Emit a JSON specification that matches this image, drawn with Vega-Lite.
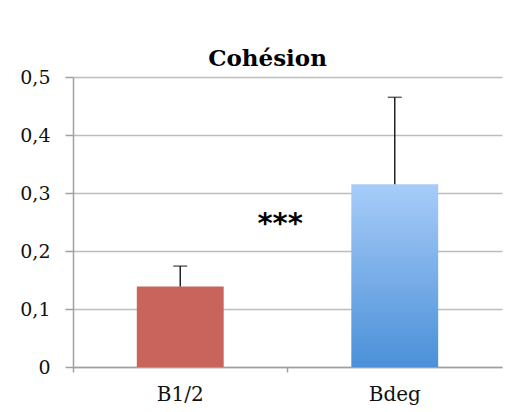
{
  "$schema": "https://vega.github.io/schema/vega-lite/v6.json",
  "autosize": "none",
  "width": 429,
  "height": 290,
  "padding": {"left": 73, "top": 77, "right": 6, "bottom": 45},
  "background": "white",
  "title": {
    "text": "Cohésion",
    "font": "DejaVu Serif",
    "fontSize": 23,
    "fontWeight": "bold",
    "color": "#000000",
    "offset": -3,
    "dx": -20
  },
  "config": {
    "view": {"stroke": null},
    "axis": {
      "labelFont": "DejaVu Serif",
      "labelFontSize": 19,
      "labelColor": "#111111",
      "domainColor": "#a0a0a0",
      "domainWidth": 1.5,
      "tickColor": "#a0a0a0",
      "tickWidth": 1.5,
      "gridColor": "#bdbdbd",
      "gridWidth": 1.5,
      "title": null
    }
  },
  "data": {
    "values": [
      {"group": "B1/2", "value": 0.139, "upper": 0.174},
      {"group": "Bdeg", "value": 0.315, "upper": 0.465}
    ]
  },
  "encoding": {
    "x": {
      "field": "group",
      "type": "nominal",
      "sort": null,
      "scale": {"paddingInner": 0.595, "paddingOuter": 0.2975},
      "axis": {"labelAngle": 0, "tickSize": 5, "labelPadding": 12, "labelFontSize": 20, "grid": false, "bandPosition": -0.734}
    }
  },
  "layer": [
    {
      "transform": [{"filter": "datum.group === 'B1/2'"}],
      "mark": {"type": "bar", "color": "#C9645C"},
      "encoding": {
        "y": {
          "field": "value",
          "type": "quantitative",
          "scale": {"domain": [0, 0.5], "nice": false},
          "axis": {
            "values": [0, 0.1, 0.2, 0.3, 0.4, 0.5],
            "format": ".1~f",
            "labelExpr": "replace(datum.label, '.', ',')",
            "tickSize": 8,
            "labelPadding": 15,
            "grid": true
          }
        }
      }
    },
    {
      "transform": [{"filter": "datum.group === 'Bdeg'"}],
      "mark": {
        "type": "bar",
        "color": {
          "gradient": "linear",
          "x1": 0, "y1": 0, "x2": 0, "y2": 1,
          "stops": [
            {"offset": 0, "color": "#A8CCF9"},
            {"offset": 1, "color": "#4A90D8"}
          ]
        }
      },
      "encoding": {"y": {"field": "value", "type": "quantitative"}}
    },
    {
      "mark": {"type": "rule", "color": "#222222", "strokeWidth": 1.5},
      "encoding": {
        "y": {"field": "value", "type": "quantitative"},
        "y2": {"field": "upper"}
      }
    },
    {
      "mark": {"type": "tick", "color": "#222222", "size": 14, "thickness": 1.5, "orient": "horizontal"},
      "encoding": {"y": {"field": "upper", "type": "quantitative"}}
    },
    {
      "data": {"values": [{"group": "B1/2", "label": "***", "pos": 0.247}]},
      "mark": {"type": "text", "font": "DejaVu Sans", "fontSize": 29, "fontWeight": "bold", "color": "#000000", "baseline": "middle", "align": "center"},
      "encoding": {
        "x": {"field": "group", "type": "nominal", "bandPosition": 1.65},
        "y": {"field": "pos", "type": "quantitative"},
        "text": {"field": "label"}
      }
    }
  ]
}
